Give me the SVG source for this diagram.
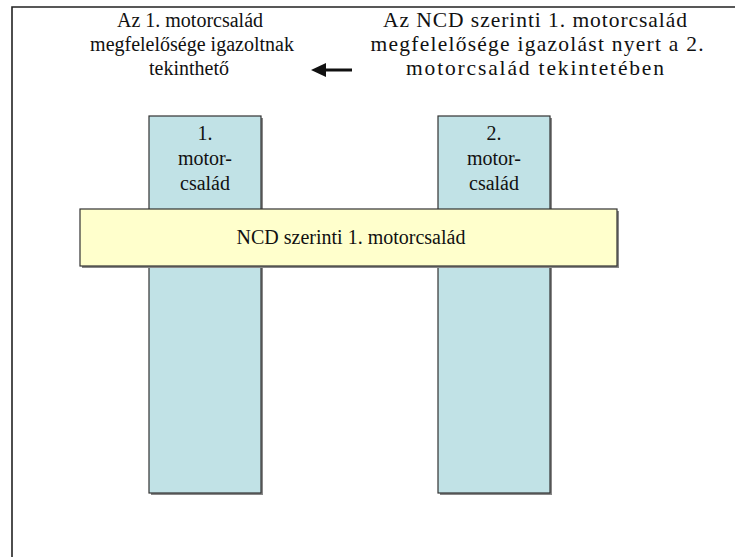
<svg xmlns="http://www.w3.org/2000/svg" width="735" height="557" viewBox="0 0 735 557">
<defs>
<style>
text{font-family:"Liberation Serif","DejaVu Serif",serif;font-size:20px;fill:#111;text-anchor:middle}
.col{fill:#c1e2e6;stroke:#333;stroke-width:1.2}
.band{fill:#ffffcc;stroke:#333;stroke-width:1.2}
.shadow{fill:#888}
.frame{stroke:#222;stroke-width:1.6;fill:none}
.big{font-size:21.5px}
</style>
</defs>
<rect width="735" height="557" fill="#fff"/>
<path class="frame" d="M12,557 V7 H735"/>
<g id="label-left">
<text x="190" y="27">Az 1. motorcsalád</text>
<text x="192" y="51">megfelelősége igazoltnak</text>
<text x="189" y="75">tekinthető</text>
</g>
<g id="label-right">
<text class="big" x="535" y="27" textLength="304" lengthAdjust="spacing">Az NCD szerinti 1. motorcsalád</text>
<text class="big" x="537" y="51" textLength="333" lengthAdjust="spacing">megfelelősége igazolást nyert a 2.</text>
<text class="big" x="535" y="75" textLength="258" lengthAdjust="spacing">motorcsalád tekintetében</text>
</g>
<g id="connectors">
<line x1="352" y1="70" x2="322" y2="70" stroke="#111" stroke-width="3"/>
<polygon points="311,70 326,63 326,77" fill="#111"/>
</g>
<g id="family1">
<rect class="shadow" x="151" y="118" width="112" height="377"/>
<rect class="col" x="149" y="116" width="112" height="377"/>
<text x="205" y="140">1.</text>
<text x="205" y="165">motor-</text>
<text x="205" y="190">család</text>
</g>
<g id="family2">
<rect class="shadow" x="440" y="118" width="112" height="377"/>
<rect class="col" x="438" y="116" width="112" height="377"/>
<text x="494" y="140">2.</text>
<text x="494" y="165">motor-</text>
<text x="494" y="190">család</text>
</g>
<g id="ncd-family">
<rect class="shadow" x="82" y="211" width="537" height="57"/>
<rect class="band" x="80" y="209" width="537" height="57"/>
<text x="351" y="244" font-size="21">NCD szerinti 1. motorcsalád</text>
</g>
</svg>
